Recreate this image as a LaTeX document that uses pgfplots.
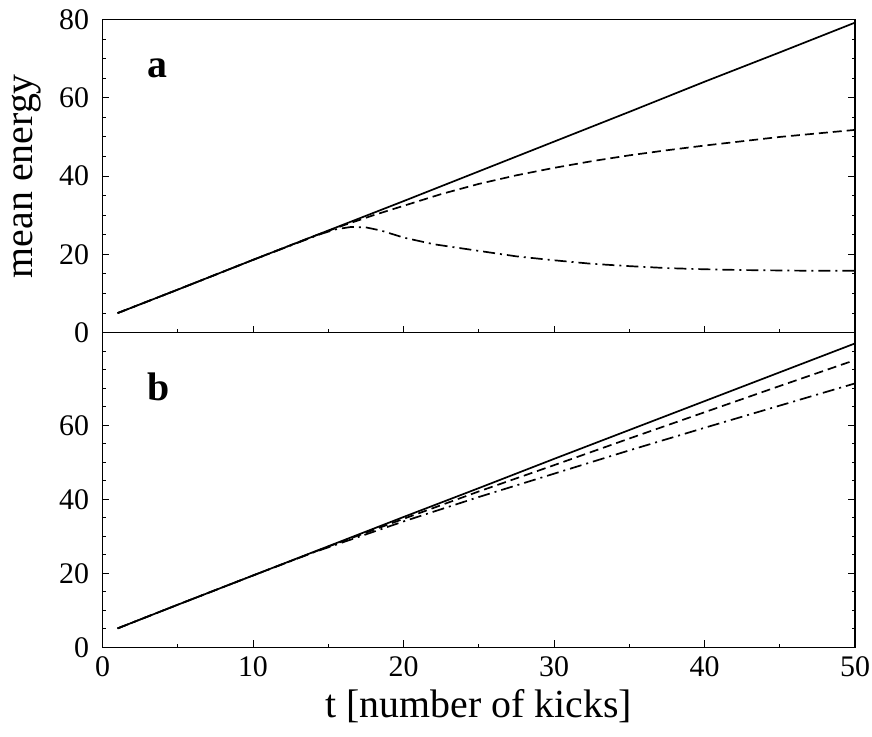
\documentclass[border=0pt]{standalone}
\usepackage{fontspec}
\setmainfont{Liberation Serif}
\usepackage{pgfplots}
\pgfplotsset{compat=1.18}
\begin{document}
\begin{tikzpicture}
\pgfplotsset{
  common/.style={
    scale only axis,
    width=752.5bp,
    xmin=0, xmax=50,
    xtick={0,10,...,50},
    minor xtick={5,15,...,45},
    xtick pos=left,
    ytick pos=both,
    yticklabel pos=left,
    tick align=inside,
    major tick length=7bp,
    minor tick length=3.5bp,
    axis line style={line width=1.2bp},
    every tick/.style={line width=1bp, black},
    /pgf/number format/assume math mode=true,
    tick label style={font=\fontsize{30}{30}\selectfont},
    yticklabel style={xshift=-10bp},
    xticklabel style={yshift=-6bp},
    every axis plot/.append style={line width=1.7bp, black, mark=none},
  },
}
\begin{axis}[common, name=top,
  height=313.2bp,
  ymin=0, ymax=80,
  ytick={0,20,...,80},
  minor ytick={5,10,...,75},
  xticklabels={},
  ylabel={mean energy},
  every axis y label/.style={at={(axis description cs:-0.0924,0.5)}, rotate=90, anchor=base, inner sep=0pt, font=\fontsize{40}{40}\selectfont},
]
\addplot[solid] coordinates {(1,5.0) (5,11.0) (10,18.6) (15,26.1) (20,33.6) (25,41.2) (30,48.8) (35,56.4) (40,64.1) (45,71.6) (50,79.2)};
\addplot[dash pattern=on 9bp off 5bp] coordinates {(1,5.0) (5,11.0) (10,18.6) (14,24.6) (16,27.4) (18,30.0) (20,32.4) (22.5,35.4) (25,38.0) (27.5,40.2) (30,42.1) (32.5,43.8) (35,45.3) (37.5,46.6) (40,47.8) (42.5,48.9) (45,50.0) (47.5,50.9) (50,51.8)};
\addplot[dash pattern=on 12bp off 5bp on 2bp off 5bp] coordinates {(1,5.0) (5,11.0) (10,18.6) (13,23.0) (14.5,25.2) (15.5,26.4) (16.5,27.0) (17.5,26.9) (18.5,26.1) (20,24.3) (22,22.6) (25,20.9) (27.5,19.5) (30,18.5) (32.5,17.6) (35,17.0) (37.5,16.5) (40,16.2) (42.5,16.0) (45,15.9) (47.5,15.8) (50,15.8)};
\node[anchor=base west, inner sep=0pt, font=\fontsize{40}{40}\selectfont\bfseries] at (axis cs:2.96,65.1) {a};
\end{axis}
\begin{axis}[common,
  at={(top.south west)}, anchor=north west,
  height=314.6bp,
  ymin=0, ymax=85,
  ytick={0,20,40,60},
  minor ytick={5,10,...,85},
  xlabel={t [number of kicks]},
  every axis x label/.style={at={(axis description cs:0.5,-0.2247)}, anchor=base, inner sep=0pt, font=\fontsize{40}{40}\selectfont},
]
\addplot[solid] coordinates {(1,5.1) (5,11.5) (10,19.4) (15,27.3) (20,35.2) (25,43.0) (30,50.9) (35,58.7) (40,66.5) (45,74.3) (50,82.1)};
\addplot[dash pattern=on 9bp off 5bp] coordinates {(1,5.1) (5,11.5) (10,19.4) (15,27.2) (20,34.7) (25,42.1) (30,49.2) (35,56.4) (40,63.5) (45,70.6) (50,77.6)};
\addplot[dash pattern=on 12bp off 5bp on 2bp off 5bp] coordinates {(1,5.1) (5,11.5) (10,19.4) (14,25.6) (20,34.0) (25,40.6) (30,46.9) (35,53.2) (40,59.3) (45,65.3) (50,71.3)};
\node[anchor=base west, inner sep=0pt, font=\fontsize{40}{40}\selectfont\bfseries] at (axis cs:2.96,66.8) {b};
\end{axis}
\pgfresetboundingbox
\path (top.north west) ++(-102.5bp,19.5bp) rectangle ++(872bp,-737bp);
\end{tikzpicture}
\end{document}
